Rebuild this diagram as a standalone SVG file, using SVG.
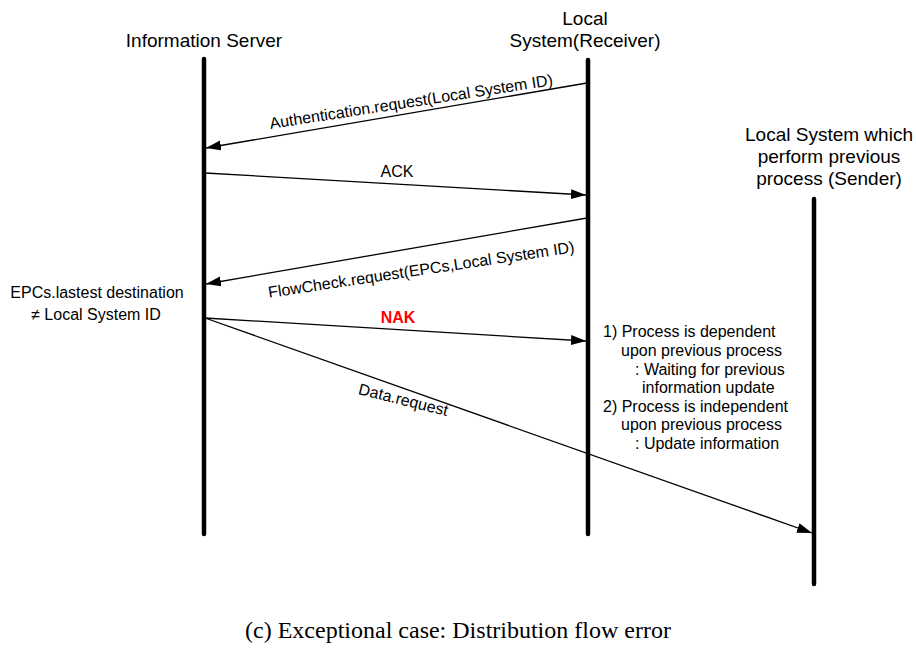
<svg xmlns="http://www.w3.org/2000/svg" width="916" height="649" viewBox="0 0 916 649">
  <style>
    .lbl { font-family: "Liberation Sans", Arial, sans-serif; font-size: 16px; fill: #000; }
    .head { font-family: "Liberation Sans", Arial, sans-serif; font-size: 19px; fill: #000; text-anchor: middle; }
    .mid { text-anchor: middle; }
    .life { stroke: #000; stroke-width: 4.5; stroke-linecap: round; fill: none; }
    .msg { stroke: #000; stroke-width: 1.3; fill: none; marker-end: url(#arrow); }
    .nak { font-weight: bold; fill: #ff0000; }
    .caption { font-family: "Liberation Serif", "Times New Roman", serif; font-size: 24px; fill: #000; text-anchor: middle; }
  </style>
  <defs>
    <marker id="arrow" markerUnits="userSpaceOnUse" markerWidth="16" markerHeight="11" refX="15" refY="5" orient="auto">
      <path d="M0,0 L15,5 L0,10 Z" fill="#000"/>
    </marker>
  </defs>
  <rect width="916" height="649" fill="#fff"/>

  <!-- participants -->
  <g id="information-server">
    <text class="head" x="204" y="47">Information Server</text>
    <line class="life" x1="204" y1="59" x2="204" y2="534"/>
  </g>
  <g id="local-system-receiver">
    <text class="head" x="585" y="25">Local</text>
    <text class="head" x="585" y="47">System(Receiver)</text>
    <line class="life" x1="588" y1="60" x2="588" y2="534"/>
  </g>
  <g id="local-system-sender">
    <text class="head" x="829" y="141">Local System which</text>
    <text class="head" x="829" y="163">perform previous</text>
    <text class="head" x="829" y="185">process (Sender)</text>
    <line class="life" x1="814" y1="199" x2="814" y2="584"/>
  </g>

  <!-- notes -->
  <g id="note-destination">
    <text class="lbl mid" x="97" y="298">EPCs.lastest destination</text>
    <text class="lbl mid" x="96" y="320">≠ Local System ID</text>
  </g>
  <g id="note-process">
    <text class="lbl" x="603" y="337">1) Process is dependent</text>
    <text class="lbl" x="621" y="356">upon previous process</text>
    <text class="lbl" x="635" y="375">: Waiting for previous</text>
    <text class="lbl" x="642" y="393">information update</text>
    <text class="lbl" x="603" y="412">2) Process is independent</text>
    <text class="lbl" x="621" y="430">upon previous process</text>
    <text class="lbl" x="635" y="449">: Update information</text>
  </g>

  <!-- messages -->
  <g id="connectors">
    <line class="msg" x1="587" y1="83" x2="206" y2="148"/>
    <text class="lbl mid" transform="translate(412,107) rotate(-8.8)">Authentication.request(Local System ID)</text>

    <line class="msg" x1="205" y1="173" x2="586" y2="195"/>
    <text class="lbl mid" x="397" y="177">ACK</text>

    <line class="msg" x1="587" y1="218" x2="206" y2="284"/>
    <text class="lbl mid" transform="translate(422,275) rotate(-8.5)">FlowCheck.request(EPCs,Local System ID)</text>

    <line class="msg" x1="205" y1="318" x2="586" y2="341"/>
    <text class="lbl mid nak" x="398" y="323">NAK</text>

    <line class="msg" x1="205" y1="318" x2="812" y2="533"/>
    <text class="lbl mid" transform="translate(402,405) rotate(14)">Data.request</text>
  </g>

  <text class="caption" x="458" y="638">(c) Exceptional case: Distribution flow error</text>
</svg>
